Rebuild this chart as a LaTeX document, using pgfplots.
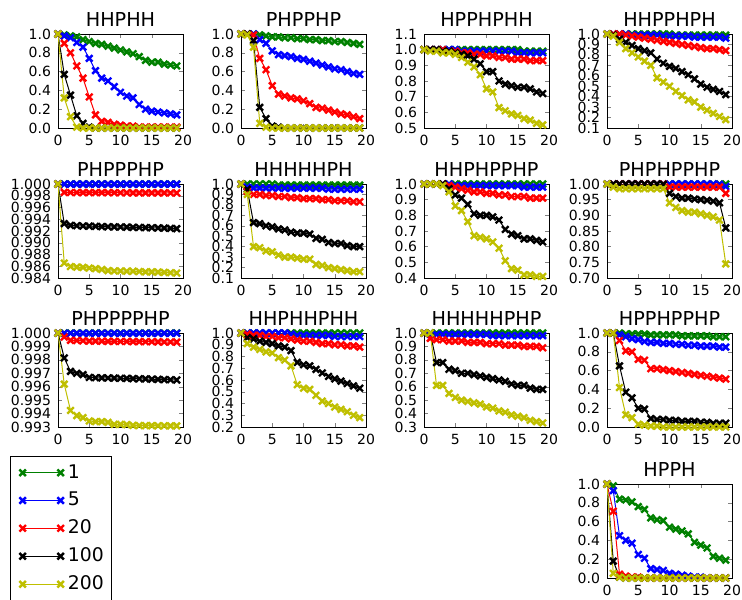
\documentclass[border=0pt]{standalone}
\usepackage{fontspec}
\setmainfont{DejaVu Sans}
\usepackage{pgfplots}
\usepackage{pgfplotstable}
\pgfplotsset{compat=1.18}

\definecolor{mplg}{rgb}{0,0.5,0}
\definecolor{mplb}{rgb}{0,0,1}
\definecolor{mplr}{rgb}{1,0,0}
\definecolor{mply}{rgb}{0.75,0.75,0}

% columns: step, then one column per value 1, 5, 20, 100, 200
\pgfplotstableread{
x c1 c5 c20 c100 c200
0 1.00 1.00 1.00 1.00 1.00
1 0.99 0.98 0.90 0.57 0.32
2 0.98 0.96 0.80 0.35 0.12
3 0.97 0.91 0.66 0.13 0.01
4 0.94 0.86 0.53 0.05 0.00
5 0.92 0.74 0.33 0.01 0.00
6 0.90 0.61 0.14 0.00 0.00
7 0.89 0.53 0.07 0.00 0.00
8 0.87 0.50 0.06 0.00 0.00
9 0.85 0.44 0.04 0.00 0.00
10 0.83 0.38 0.03 0.00 0.00
11 0.81 0.34 0.02 0.00 0.00
12 0.79 0.32 0.02 0.00 0.00
13 0.76 0.25 0.01 0.00 0.00
14 0.72 0.20 0.01 0.00 0.00
15 0.70 0.18 0.01 0.00 0.00
16 0.70 0.17 0.01 0.00 0.00
17 0.68 0.16 0.01 0.00 0.00
18 0.67 0.15 0.01 0.00 0.00
19 0.66 0.14 0.01 0.00 0.00
}\tA
\pgfplotstableread{
x c1 c5 c20 c100 c200
0 1.00 1.00 1.00 1.00 1.00
1 1.00 1.00 1.00 1.00 0.99
2 1.00 1.00 0.99 0.93 0.86
3 0.99 0.94 0.74 0.22 0.05
4 0.98 0.90 0.62 0.10 0.01
5 0.97 0.82 0.45 0.02 0.00
6 0.97 0.78 0.36 0.01 0.00
7 0.96 0.77 0.34 0.00 0.00
8 0.96 0.76 0.32 0.00 0.00
9 0.95 0.74 0.31 0.00 0.00
10 0.95 0.73 0.29 0.00 0.00
11 0.94 0.71 0.26 0.00 0.00
12 0.94 0.69 0.22 0.00 0.00
13 0.93 0.67 0.21 0.00 0.00
14 0.93 0.65 0.19 0.00 0.00
15 0.92 0.63 0.17 0.00 0.00
16 0.92 0.62 0.15 0.00 0.00
17 0.91 0.60 0.14 0.00 0.00
18 0.90 0.58 0.12 0.00 0.00
19 0.89 0.57 0.10 0.00 0.00
}\tB
\pgfplotstableread{
x c1 c5 c20 c100 c200
0 1.00 1.00 1.00 1.00 1.00
1 1.00 1.00 1.00 1.00 0.99
2 1.00 1.00 1.00 1.00 0.99
3 1.00 1.00 1.00 0.99 0.98
4 1.00 1.00 0.99 0.99 0.98
5 1.00 1.00 0.99 0.98 0.97
6 1.00 0.99 0.98 0.97 0.95
7 1.00 0.99 0.98 0.96 0.92
8 1.00 0.99 0.97 0.94 0.89
9 1.00 0.99 0.97 0.91 0.84
10 1.00 0.99 0.96 0.86 0.75
11 1.00 0.99 0.96 0.86 0.73
12 1.00 0.99 0.95 0.80 0.63
13 1.00 0.99 0.95 0.78 0.61
14 1.00 0.99 0.94 0.77 0.59
15 1.00 0.98 0.94 0.76 0.58
16 0.99 0.98 0.94 0.76 0.56
17 0.99 0.98 0.93 0.75 0.55
18 0.99 0.98 0.93 0.73 0.53
19 0.99 0.98 0.93 0.72 0.52
}\tC
\pgfplotstableread{
x c1 c5 c20 c100 c200
0 1.00 1.00 1.00 1.00 1.00
1 1.00 1.00 1.00 0.99 0.98
2 1.00 1.00 1.00 0.95 0.92
3 1.00 1.00 0.99 0.92 0.86
4 1.00 0.99 0.98 0.89 0.82
5 1.00 0.99 0.97 0.86 0.78
6 1.00 0.99 0.96 0.84 0.74
7 1.00 0.99 0.95 0.82 0.70
8 1.00 0.99 0.94 0.76 0.58
9 1.00 0.98 0.93 0.72 0.54
10 1.00 0.98 0.92 0.69 0.50
11 0.99 0.98 0.91 0.67 0.45
12 0.99 0.98 0.90 0.64 0.41
13 0.99 0.98 0.89 0.61 0.37
14 0.99 0.97 0.88 0.57 0.35
15 0.99 0.97 0.87 0.52 0.30
16 0.99 0.97 0.86 0.49 0.27
17 0.99 0.97 0.86 0.47 0.24
18 0.99 0.97 0.85 0.45 0.21
19 0.99 0.96 0.84 0.42 0.18
}\tD
\pgfplotstableread{
x c1 c5 c20 c100 c200
0 1.00000 1.00000 1.00000 1.00000 1.00000
1 1.00000 0.99998 0.99858 0.99325 0.98655
2 1.00000 0.99998 0.99855 0.99295 0.98595
3 1.00000 0.99998 0.99855 0.99290 0.98585
4 1.00000 0.99998 0.99854 0.99285 0.98580
5 1.00000 0.99998 0.99854 0.99282 0.98570
6 1.00000 0.99998 0.99853 0.99280 0.98560
7 1.00000 0.99998 0.99853 0.99275 0.98545
8 1.00000 0.99998 0.99852 0.99272 0.98525
9 1.00000 0.99998 0.99852 0.99270 0.98520
10 1.00000 0.99998 0.99851 0.99268 0.98520
11 1.00000 0.99998 0.99851 0.99265 0.98515
12 1.00000 0.99998 0.99850 0.99262 0.98515
13 1.00000 0.99998 0.99850 0.99260 0.98510
14 1.00000 0.99998 0.99849 0.99258 0.98505
15 1.00000 0.99998 0.99849 0.99255 0.98505
16 1.00000 0.99998 0.99848 0.99252 0.98500
17 1.00000 0.99998 0.99848 0.99250 0.98495
18 1.00000 0.99998 0.99847 0.99245 0.98490
19 1.00000 0.99998 0.99847 0.99240 0.98485
}\tE
\pgfplotstableread{
x c1 c5 c20 c100 c200
0 1.00 1.00 1.00 1.00 1.00
1 1.00 0.97 0.93 0.95 0.90
2 1.00 0.96 0.90 0.63 0.40
3 1.00 0.96 0.90 0.62 0.39
4 1.00 0.96 0.89 0.60 0.36
5 1.00 0.96 0.89 0.59 0.35
6 0.99 0.96 0.88 0.57 0.32
7 0.99 0.96 0.88 0.56 0.30
8 0.99 0.96 0.87 0.54 0.30
9 0.99 0.96 0.87 0.53 0.29
10 0.99 0.96 0.86 0.53 0.28
11 0.99 0.96 0.86 0.52 0.28
12 0.99 0.96 0.86 0.48 0.23
13 0.99 0.96 0.85 0.47 0.22
14 0.99 0.95 0.85 0.44 0.20
15 0.99 0.95 0.84 0.43 0.19
16 0.99 0.95 0.84 0.43 0.18
17 0.99 0.95 0.84 0.41 0.17
18 0.99 0.95 0.83 0.40 0.16
19 0.99 0.95 0.83 0.40 0.16
}\tF
\pgfplotstableread{
x c1 c5 c20 c100 c200
0 1.00 1.00 1.00 1.00 1.00
1 1.00 1.00 1.00 1.00 1.00
2 1.00 1.00 1.00 1.00 1.00
3 1.00 1.00 1.00 1.00 0.99
4 1.00 1.00 0.99 0.97 0.95
5 1.00 0.99 0.98 0.93 0.86
6 1.00 0.99 0.97 0.91 0.83
7 1.00 0.99 0.96 0.87 0.76
8 1.00 0.99 0.95 0.81 0.67
9 1.00 0.99 0.95 0.80 0.66
10 1.00 0.99 0.94 0.80 0.65
11 1.00 0.99 0.94 0.79 0.63
12 1.00 0.99 0.93 0.77 0.59
13 1.00 0.99 0.93 0.71 0.51
14 1.00 0.99 0.92 0.68 0.46
15 1.00 0.99 0.92 0.67 0.45
16 1.00 0.98 0.92 0.65 0.42
17 1.00 0.98 0.91 0.65 0.42
18 1.00 0.98 0.91 0.64 0.41
19 1.00 0.98 0.91 0.63 0.41
}\tG
\pgfplotstableread{
x c1 c5 c20 c100 c200
0 1.000 1.000 1.000 1.000 1.000
1 1.000 1.000 1.000 1.000 0.990
2 1.000 1.000 1.000 1.000 0.985
3 1.000 1.000 1.000 1.000 0.985
4 1.000 1.000 1.000 1.000 0.985
5 1.000 1.000 1.000 1.000 0.985
6 1.000 1.000 1.000 1.000 0.985
7 1.000 1.000 1.000 1.000 0.985
8 1.000 1.000 1.000 1.000 0.985
9 1.000 1.000 1.000 0.999 0.985
10 1.000 1.000 0.990 0.970 0.940
11 1.000 1.000 0.990 0.960 0.925
12 1.000 1.000 0.990 0.955 0.915
13 1.000 1.000 0.990 0.955 0.910
14 1.000 1.000 0.990 0.952 0.910
15 1.000 1.000 0.990 0.950 0.905
16 1.000 1.000 0.990 0.948 0.900
17 1.000 1.000 0.990 0.945 0.895
18 1.000 0.999 0.990 0.940 0.885
19 1.000 0.992 0.970 0.860 0.745
}\tH
\pgfplotstableread{
x c1 c5 c20 c100 c200
0 1.00000 1.00000 1.00000 1.00000 1.00000
1 1.00000 0.99998 0.99970 0.99814 0.99619
2 1.00000 0.99998 0.99945 0.99714 0.99423
3 1.00000 0.99998 0.99944 0.99700 0.99385
4 1.00000 0.99998 0.99942 0.99690 0.99370
5 1.00000 0.99998 0.99940 0.99669 0.99345
6 1.00000 0.99998 0.99940 0.99667 0.99340
7 1.00000 0.99998 0.99939 0.99666 0.99340
8 1.00000 0.99998 0.99938 0.99665 0.99335
9 1.00000 0.99998 0.99938 0.99664 0.99320
10 1.00000 0.99998 0.99937 0.99663 0.99320
11 1.00000 0.99998 0.99937 0.99662 0.99318
12 1.00000 0.99998 0.99936 0.99660 0.99312
13 1.00000 0.99998 0.99936 0.99659 0.99311
14 1.00000 0.99998 0.99935 0.99658 0.99310
15 1.00000 0.99998 0.99935 0.99656 0.99310
16 1.00000 0.99998 0.99934 0.99655 0.99309
17 1.00000 0.99998 0.99933 0.99653 0.99309
18 1.00000 0.99998 0.99933 0.99652 0.99308
19 1.00000 0.99998 0.99932 0.99650 0.99308
}\tI
\pgfplotstableread{
x c1 c5 c20 c100 c200
0 1.00 1.00 1.00 1.00 1.00
1 1.00 1.00 0.99 0.96 0.91
2 1.00 1.00 0.98 0.95 0.88
3 1.00 1.00 0.98 0.93 0.86
4 1.00 1.00 0.97 0.92 0.84
5 1.00 1.00 0.97 0.91 0.83
6 1.00 1.00 0.96 0.89 0.79
7 1.00 1.00 0.96 0.88 0.77
8 1.00 0.99 0.95 0.85 0.72
9 1.00 0.98 0.94 0.75 0.56
10 1.00 0.98 0.93 0.73 0.53
11 1.00 0.98 0.93 0.72 0.52
12 1.00 0.98 0.92 0.69 0.47
13 1.00 0.98 0.91 0.66 0.42
14 1.00 0.98 0.91 0.63 0.40
15 1.00 0.97 0.90 0.61 0.37
16 1.00 0.97 0.90 0.59 0.35
17 1.00 0.97 0.89 0.57 0.33
18 1.00 0.97 0.89 0.55 0.30
19 1.00 0.97 0.88 0.53 0.28
}\tJ
\pgfplotstableread{
x c1 c5 c20 c100 c200
0 1.00 1.00 1.00 1.00 1.00
1 1.00 0.99 0.96 1.00 1.00
2 1.00 0.99 0.95 0.78 0.61
3 1.00 0.99 0.95 0.78 0.61
4 1.00 0.99 0.94 0.73 0.55
5 1.00 0.99 0.94 0.72 0.52
6 1.00 0.99 0.94 0.70 0.50
7 1.00 0.99 0.93 0.70 0.49
8 1.00 0.99 0.93 0.69 0.48
9 1.00 0.99 0.93 0.68 0.47
10 1.00 0.99 0.92 0.67 0.45
11 1.00 0.98 0.92 0.66 0.44
12 1.00 0.98 0.92 0.65 0.42
13 1.00 0.98 0.91 0.64 0.41
14 1.00 0.98 0.91 0.62 0.39
15 1.00 0.98 0.91 0.61 0.38
16 1.00 0.98 0.90 0.61 0.37
17 1.00 0.98 0.90 0.59 0.35
18 1.00 0.98 0.90 0.58 0.34
19 1.00 0.98 0.89 0.58 0.33
}\tK
\pgfplotstableread{
x c1 c5 c20 c100 c200
0 1.00 1.00 1.00 1.00 1.00
1 1.00 1.00 1.00 1.00 1.00
2 1.00 0.98 0.92 0.65 0.42
3 0.99 0.96 0.81 0.37 0.13
4 0.99 0.94 0.80 0.31 0.10
5 0.99 0.93 0.72 0.20 0.03
6 0.99 0.91 0.71 0.19 0.02
7 0.98 0.90 0.62 0.09 0.01
8 0.98 0.90 0.62 0.08 0.01
9 0.98 0.89 0.61 0.08 0.00
10 0.98 0.89 0.60 0.07 0.00
11 0.98 0.88 0.59 0.07 0.00
12 0.97 0.88 0.58 0.06 0.00
13 0.97 0.87 0.57 0.06 0.00
14 0.97 0.87 0.56 0.06 0.00
15 0.97 0.86 0.55 0.05 0.00
16 0.97 0.86 0.54 0.05 0.00
17 0.96 0.86 0.53 0.04 0.00
18 0.96 0.85 0.52 0.04 0.00
19 0.96 0.85 0.51 0.04 0.00
}\tL
\pgfplotstableread{
x c1 c5 c20 c100 c200
0 1.00 1.00 1.00 1.00 1.00
1 0.98 0.93 0.71 0.18 0.05
2 0.84 0.45 0.04 0.01 0.01
3 0.83 0.40 0.02 0.00 0.00
4 0.81 0.37 0.01 0.00 0.00
5 0.76 0.25 0.01 0.00 0.00
6 0.73 0.21 0.00 0.00 0.00
7 0.64 0.10 0.00 0.00 0.00
8 0.62 0.09 0.00 0.00 0.00
9 0.61 0.08 0.00 0.00 0.00
10 0.54 0.05 0.00 0.00 0.00
11 0.52 0.04 0.00 0.00 0.00
12 0.50 0.03 0.00 0.00 0.00
13 0.47 0.02 0.00 0.00 0.00
14 0.38 0.01 0.00 0.00 0.00
15 0.35 0.01 0.00 0.00 0.00
16 0.32 0.00 0.00 0.00 0.00
17 0.23 0.00 0.00 0.00 0.00
18 0.21 0.00 0.00 0.00 0.00
19 0.19 0.00 0.00 0.00 0.00
}\tM

\pgfplotsset{
  ser/.style={line width=0.5pt, mark=x, mark size=2.3pt, mark options={line width=1.2pt, solid}},
  sg/.style={ser, color=mplg},
  sb/.style={ser, color=mplb},
  sr/.style={ser, color=mplr},
  sk/.style={ser, color=black},
  sy/.style={ser, color=mply},
  every axis title shift=0pt,
  sub/.style={
    anchor=north west, scale only axis, width=62.5pt, height=47pt,
    xmin=0, xmax=20, xtick={0,5,10,15,20},
    tick align=inside, major tick length=2pt,
    scaled y ticks=false,
    tick label style={font=\fontsize{7}{8}\selectfont},
    /pgf/number format/assume math mode=true,
    title style={font=\fontsize{9.6}{11}\selectfont},
  },
  p1/.style={yticklabel style={/pgf/number format/.cd,fixed,fixed zerofill,precision=1}},
  p2/.style={yticklabel style={/pgf/number format/.cd,fixed,fixed zerofill,precision=2}},
  p3/.style={yticklabel style={/pgf/number format/.cd,fixed,fixed zerofill,precision=3}},
}

\newcommand\five[1]{%
  \addplot[sg] table[y=c1]{#1};
  \addplot[sb] table[y=c5]{#1};
  \addplot[sr] table[y=c20]{#1};
  \addplot[sk] table[y=c100]{#1};
  \addplot[sy] table[y=c200]{#1};
}

\begin{document}
\begin{tikzpicture}
\useasboundingbox (0,0) rectangle (371pt,-299.5pt);

% row 1
\begin{axis}[sub, p1, at={(29pt,-17pt)}, title={HHPHH},
  ymin=0, ymax=1, ytick={0,0.2,0.4,0.6,0.8,1.0}]
\five{\tA}
\end{axis}
\begin{axis}[sub, p1, at={(120.5pt,-17pt)}, title={PHPPHP},
  ymin=0, ymax=1, ytick={0,0.2,0.4,0.6,0.8,1.0}]
\five{\tB}
\end{axis}
\begin{axis}[sub, p1, at={(212pt,-17pt)}, title={HPPHPHH},
  ymin=0.5, ymax=1.1, ytick={0.5,0.6,0.7,0.8,0.9,1.0,1.1}]
\five{\tC}
\end{axis}
\begin{axis}[sub, p1, at={(303.5pt,-17pt)}, title={HHPPHPH},
  ymin=0.1, ymax=1.0, ytick={0.1,0.2,0.3,0.4,0.5,0.6,0.7,0.8,0.9,1.0}]
\five{\tD}
\end{axis}

% row 2
\begin{axis}[sub, p3, at={(29pt,-92pt)}, title={PHPPPHP},
  ymin=0.984, ymax=1.0, ytick={0.984,0.986,0.988,0.990,0.992,0.994,0.996,0.998,1.000}]
\five{\tE}
\end{axis}
\begin{axis}[sub, p1, at={(120.5pt,-92pt)}, title={HHHHHPH},
  ymin=0.1, ymax=1.0, ytick={0.1,0.2,0.3,0.4,0.5,0.6,0.7,0.8,0.9,1.0}]
\five{\tF}
\end{axis}
\begin{axis}[sub, p1, at={(212pt,-92pt)}, title={HHPHPPHP},
  ymin=0.4, ymax=1.0, ytick={0.4,0.5,0.6,0.7,0.8,0.9,1.0}]
\five{\tG}
\end{axis}
\begin{axis}[sub, p2, at={(303.5pt,-92pt)}, title={PHPHPPHP},
  ymin=0.7, ymax=1.0, ytick={0.70,0.75,0.80,0.85,0.90,0.95,1.00}]
\five{\tH}
\end{axis}

% row 3
\begin{axis}[sub, p3, at={(29pt,-166.5pt)}, title={PHPPPPHP},
  ymin=0.993, ymax=1.0, ytick={0.993,0.994,0.995,0.996,0.997,0.998,0.999,1.000}]
\five{\tI}
\end{axis}
\begin{axis}[sub, p1, at={(120.5pt,-166.5pt)}, title={HHPHHPHH},
  ymin=0.2, ymax=1.0, ytick={0.2,0.3,0.4,0.5,0.6,0.7,0.8,0.9,1.0}]
\five{\tJ}
\end{axis}
\begin{axis}[sub, p1, at={(212pt,-166.5pt)}, title={HHHHHPHP},
  ymin=0.3, ymax=1.0, ytick={0.3,0.4,0.5,0.6,0.7,0.8,0.9,1.0}]
\five{\tK}
\end{axis}
\begin{axis}[sub, p1, at={(303.5pt,-166.5pt)}, title={HPPHPPHP},
  ymin=0, ymax=1, ytick={0,0.2,0.4,0.6,0.8,1.0}]
\five{\tL}
\end{axis}

% row 4
\begin{axis}[sub, p1, at={(303.5pt,-242pt)}, title={HPPH},
  ymin=0, ymax=1, ytick={0,0.2,0.4,0.6,0.8,1.0}]
\five{\tM}
\end{axis}

% legend
\begin{axis}[anchor=north west, at={(5pt,-228pt)}, hide axis, scale only axis,
  width=50pt, height=70pt, xmin=0, xmax=1, ymin=0, ymax=1,
  legend style={at={(0,1)}, anchor=north west, draw=black, fill=white,
    font=\fontsize{9.4}{11}\selectfont, row sep=1.5pt, inner xsep=4.5pt},
  legend cell align=left,
  legend image code/.code={\draw plot coordinates {(0pt,0pt) (19pt,0pt)};}]
\addlegendimage{sg}\addlegendentry{\makebox[15pt][l]{1}}
\addlegendimage{sb}\addlegendentry{\makebox[15pt][l]{5}}
\addlegendimage{sr}\addlegendentry{\makebox[15pt][l]{20}}
\addlegendimage{sk}\addlegendentry{\makebox[15pt][l]{100}}
\addlegendimage{sy}\addlegendentry{\makebox[15pt][l]{200}}
\end{axis}
\end{tikzpicture}
\end{document}
